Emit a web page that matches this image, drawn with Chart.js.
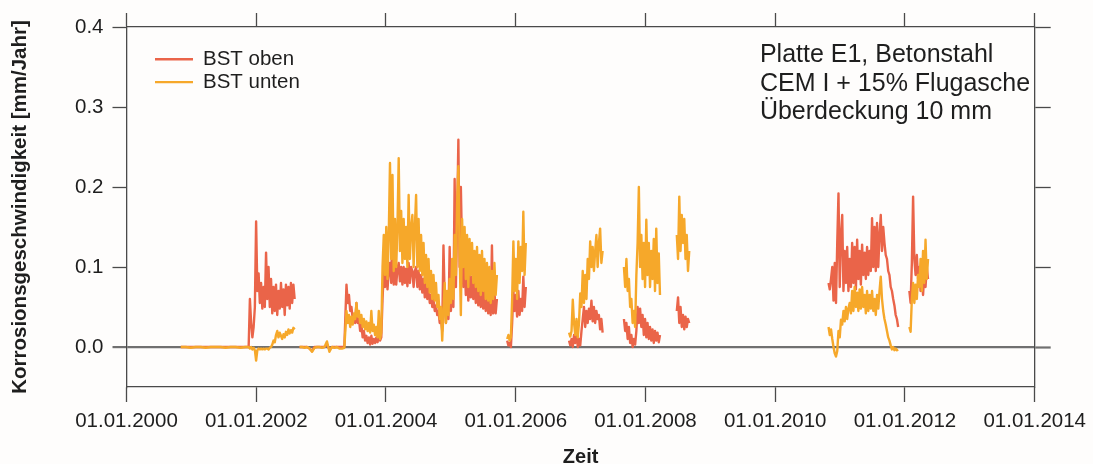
<!DOCTYPE html>
<html>
<head>
<meta charset="utf-8">
<script src="https://cdn.jsdelivr.net/npm/chart.js@4/dist/chart.umd.min.js"></script>
<style>
html,body{margin:0;padding:0;background:#fefdfc;}
#wrap{width:1093px;height:464px;position:relative;}
</style>
</head>
<body>
<div id="wrap"><canvas id="c"></canvas></div>
<script>
// ---------- labels / ticks ----------
const seriesLabels = ['BST oben', 'BST unten'];
const xTickYears = [2000, 2002, 2004, 2006, 2008, 2010, 2012, 2014];
const yTickValues = [0, 0.1, 0.2, 0.3, 0.4];
const infoLines = ['Platte E1, Betonstahl', 'CEM I + 15% Flugasche', 'Überdeckung 10 mm'];
const xTitle = 'Zeit';
const yTitle = 'Korrosionsgeschwindigkeit [mm/Jahr]';

// ---------- measurement segments (start as decimal year, sampling interval in days) ----------
const segmentStart = [2000.837, 2001.883, 2002.668, 2003.391, 2005.868, 2006.822, 2007.668, 2008.483, 2010.822, 2012.068];
const segmentStepDays = [28, 7, 14, 7, 7, 7, 7, 7, 7, 7];
const segmentBreakBefore = [false, false, true, false, true, true, true, true, true, true];

// ---------- values BST oben [mm/Jahr] ----------
const obenA = [0,0,0,0,0,0,0,0,0,0,0,0,0,0];
const obenB = [0.000,0.060,0.030,0.012,0.025,0.050,0.157,0.070,0.092,0.055,0.080,0.048,0.075,0.050,0.118,0.060,0.100,0.050,0.085,0.042,0.075,0.045,0.078,0.040,0.070,0.048,0.080,0.050,0.072,0.040,0.078,0.052,0.075,0.048,0.080,0.055,0.078,0.060];
const obenC = [0,0,0,0,-0.002,-0.005,0,0,0,0,0,0.003,-0.003,0,0,0,0,0,0];
const obenD = [0.078,0.055,0.065,0.045,0.050,0.035,0.040,0.030,0.055,0.030,
  0.035,0.020,0.028,0.012,0.020,0.008,0.014,0.005,0.012,0.003,
  0.014,0.004,0.010,0.005,0.012,0.006,0.015,0.008,0.012,0.060,
  0.095,0.075,0.100,0.072,0.095,0.105,0.080,0.160,0.078,0.100,
  0.078,0.098,0.105,0.082,0.100,0.078,0.100,0.080,0.098,0.076,
  0.105,0.080,0.100,0.095,0.075,0.095,0.100,0.075,0.095,0.072,
  0.090,0.068,0.085,0.062,0.080,0.060,0.075,0.055,0.065,0.050,
  0.060,0.045,0.052,0.040,0.045,0.030,0.035,0.020,0.127,0.060,
  0.030,0.055,0.035,0.125,0.045,0.085,0.050,0.210,0.075,0.160,
  0.259,0.100,0.200,0.120,0.075,0.105,0.065,0.095,0.058,0.090,
  0.062,0.088,0.060,0.085,0.055,0.085,0.052,0.080,0.050,0.085,
  0.048,0.075,0.045,0.072,0.042,0.068,0.040,0.127,0.042,0.070,
  0.042,0.060];
const obenE = [0.008,0.002,0.005,0.000,0.030,0.070,0.045,0.065,0.038,0.070,0.040,0.060,0.045,0.088,0.050,0.075];
const obenF = [0.008,0.002,0.010,0.000,0.015,0.005,0.020,0.000,0.010,0.002,0.020,0.035,0.050,0.025,0.045,0.030,0.048,0.035,0.058,0.032,0.050,0.030,0.045,0.035,0.040,0.022,0.035,0.018];
const obenG = [0.035,0.020,0.030,0.010,0.025,0.005,0.015,0.000,0.010,0.003,0.020,0.050,0.030,0.048,0.025,0.040,0.015,0.035,0.012,0.030,0.010,0.025,0.008,0.022,0.005,0.020,0.008,0.018,0.006,0.015];
const obenH = [0.045,0.062,0.030,0.050,0.025,0.040,0.022,0.038,0.025,0.035,0.030];
const obenI = [0.080,0.072,0.085,0.100,0.058,0.105,0.055,0.130,0.192,0.075,
  0.140,0.165,0.070,0.120,0.080,0.125,0.070,0.110,0.075,0.130,
  0.080,0.125,0.072,0.134,0.085,0.120,0.078,0.128,0.090,0.118,
  0.085,0.125,0.090,0.120,0.095,0.161,0.100,0.150,0.095,0.155,
  0.100,0.140,0.165,0.120,0.150,0.130,0.115,0.110,0.095,0.090,
  0.075,0.070,0.060,0.052,0.040,0.035,0.025];
const obenJ = [0.070,0.055,0.105,0.188,0.110,0.090,0.115,0.085,0.100,0.070,0.095,0.065,0.090,0.075,0.100,0.085];

// ---------- values BST unten [mm/Jahr] ----------
const untenA = [0,0,-0.001,0,0,-0.001,0,0,0,-0.001,0,0,-0.001,0];
const untenB = [0.000,-0.002,0.000,-0.003,-0.001,-0.004,-0.017,-0.004,-0.002,-0.003,-0.002,-0.003,-0.002,-0.003,-0.002,-0.002,-0.003,-0.001,0.000,0.003,0.008,0.006,0.015,0.020,0.012,0.018,0.014,0.010,0.016,0.012,0.019,0.015,0.022,0.017,0.021,0.018,0.024,0.022];
const untenC = [0,0,-0.001,0,-0.002,-0.006,-0.001,0,0,-0.001,0,0.007,-0.006,0,-0.001,0,-0.002,-0.002,-0.001];
const untenD = [0.045,0.030,0.040,0.025,0.038,0.028,0.042,0.035,0.055,0.038,
  0.045,0.030,0.040,0.025,0.035,0.022,0.032,0.020,0.030,0.018,
  0.045,0.020,0.028,0.015,0.025,0.012,0.045,0.010,0.018,0.100,
  0.140,0.090,0.150,0.085,0.140,0.230,0.110,0.215,0.095,0.160,
  0.100,0.150,0.236,0.120,0.170,0.105,0.160,0.110,0.150,0.100,
  0.190,0.110,0.150,0.165,0.100,0.150,0.190,0.100,0.160,0.095,
  0.140,0.090,0.130,0.080,0.115,0.075,0.110,0.068,0.095,0.060,
  0.090,0.058,0.080,0.050,0.065,0.035,0.050,0.008,0.045,0.080,
  0.030,0.070,0.040,0.085,0.055,0.110,0.060,0.140,0.090,0.180,
  0.226,0.120,0.040,0.160,0.100,0.150,0.085,0.140,0.075,0.135,
  0.090,0.130,0.080,0.120,0.075,0.125,0.070,0.115,0.065,0.120,
  0.070,0.110,0.060,0.105,0.058,0.100,0.055,0.095,0.060,0.105,
  0.065,0.090];
const untenE = [0.010,0.015,0.008,0.012,0.060,0.132,0.070,0.110,0.060,0.132,0.080,0.125,0.095,0.169,0.090,0.130];
const untenF = [0.018,0.013,0.020,0.059,0.030,0.015,0.035,0.012,0.030,0.067,0.050,0.095,0.055,0.090,0.060,0.110,0.085,0.132,0.100,0.125,0.095,0.120,0.140,0.100,0.130,0.148,0.105,0.120];
const untenG = [0.100,0.075,0.110,0.070,0.085,0.050,0.060,0.030,0.045,0.025,0.090,0.130,0.200,0.100,0.140,0.085,0.130,0.075,0.159,0.090,0.130,0.075,0.120,0.085,0.135,0.070,0.148,0.080,0.117,0.065];
const untenH = [0.140,0.110,0.188,0.120,0.165,0.130,0.160,0.110,0.140,0.095,0.120];
const untenI = [0.025,0.015,0.022,0.010,0.000,-0.008,-0.012,-0.005,0.020,0.012,
  0.034,0.028,0.045,0.032,0.050,0.035,0.048,0.055,0.042,0.070,
  0.045,0.075,0.050,0.068,0.045,0.072,0.048,0.075,0.050,0.065,
  0.042,0.070,0.045,0.065,0.048,0.070,0.045,0.060,0.040,0.065,
  0.048,0.070,0.088,0.060,0.045,0.035,0.028,0.020,0.012,0.008,
  0.002,-0.003,0.000,-0.004,-0.002,-0.004,-0.003];
const untenJ = [0.025,0.019,0.060,0.080,0.055,0.078,0.060,0.090,0.075,0.110,0.070,0.120,0.080,0.134,0.085,0.110];

const obenSegments = [obenA, obenB, obenC, obenD, obenE, obenF, obenG, obenH, obenI, obenJ];
const untenSegments = [untenA, untenB, untenC, untenD, untenE, untenF, untenG, untenH, untenI, untenJ];

function buildSeries(segs) {
  const pts = [];
  segs.forEach((vals, s) => {
    const t0 = segmentStart[s];
    const dt = segmentStepDays[s] / 365.25;
    if (segmentBreakBefore[s]) pts.push({x: t0 - dt / 2, y: null});
    vals.forEach((v, i) => pts.push({x: t0 + i * dt, y: v}));
  });
  return pts;
}

const FONT = "'Liberation Sans', Arial, sans-serif";
const TEXT = '#1e1e1e';
const AXIS = '#4a4a4a';
const ZERO = '#707070';
const RED = '#EA6449';
const ORANGE = '#F6A82A';
const LINE_W = 2.4;
const isZero = c => c.tick && Math.abs(c.tick.value) < 1e-9;

const bgPlugin = {
  id: 'bg',
  beforeDraw(chart) {
    const ctx = chart.ctx;
    ctx.save();
    ctx.fillStyle = '#fefdfc';
    ctx.fillRect(0, 0, chart.width, chart.height);
    ctx.restore();
  }
};

const overlayPlugin = {
  id: 'overlay',
  afterDraw(chart) {
    const {ctx, chartArea: a} = chart;
    ctx.save();
    ctx.font = '20.5px ' + FONT;
    ctx.textBaseline = 'middle';
    ctx.textAlign = 'left';
    chart.data.datasets.forEach((ds, k) => {
      const y = a.top + 32.3 + k * 22.8;
      ctx.strokeStyle = ds.borderColor;
      ctx.lineWidth = LINE_W;
      ctx.beginPath();
      ctx.moveTo(a.left + 28.5, y);
      ctx.lineTo(a.left + 66.5, y);
      ctx.stroke();
      ctx.fillStyle = TEXT;
      ctx.fillText(ds.label, a.left + 76.5, y + 0.5);
    });
    ctx.font = '25px ' + FONT;
    ctx.textBaseline = 'alphabetic';
    infoLines.forEach((line, k) => {
      ctx.fillText(line, a.left + 633.4, a.top + 34.7 + k * 28.8);
    });
    ctx.restore();
  }
};

const xTicksFn = s => { s.ticks = xTickYears.map(v => ({value: v})); };
const yTicksFn = s => { s.ticks = yTickValues.map(v => ({value: v})); };

new Chart(document.getElementById('c'), {
  type: 'line',
  data: {
    datasets: [
      {label: seriesLabels[0], data: buildSeries(obenSegments), borderColor: RED, backgroundColor: RED,
       borderWidth: LINE_W, pointRadius: 0, spanGaps: false, tension: 0, order: 2, borderJoinStyle: 'round'},
      {label: seriesLabels[1], data: buildSeries(untenSegments), borderColor: ORANGE, backgroundColor: ORANGE,
       borderWidth: LINE_W, pointRadius: 0, spanGaps: false, tension: 0, order: 1, borderJoinStyle: 'round'}
    ]
  },
  options: {
    animation: false,
    responsive: true,
    maintainAspectRatio: false,
    layout: {padding: 0},
    plugins: {legend: {display: false}, tooltip: {enabled: false}},
    scales: {
      x: {
        type: 'linear', position: 'bottom', min: 2000, max: 2014, bounds: 'data',
        afterBuildTicks: xTicksFn,
        ticks: {callback: v => '01.01.' + v, font: {family: FONT, size: 20.5}, color: TEXT, padding: 7, maxRotation: 0, autoSkip: false},
        grid: {drawOnChartArea: false, tickLength: 15, tickColor: AXIS, tickWidth: 1.3},
        border: {color: AXIS, width: 1.3},
        title: {display: true, text: xTitle, font: {family: FONT, size: 20, weight: 'bold'}, color: TEXT, padding: {top: 0, bottom: -5}},
        afterFit: s => { s.height = 77; }
      },
      x2: {
        type: 'linear', position: 'top', min: 2000, max: 2014, bounds: 'data',
        afterBuildTicks: xTicksFn,
        ticks: {display: false},
        grid: {drawOnChartArea: false, tickLength: 14, tickColor: AXIS, tickWidth: 1.3},
        border: {color: AXIS, width: 1.3},
        afterFit: s => { s.height = 27; }
      },
      y: {
        type: 'linear', position: 'left', min: -0.05, max: 0.4, bounds: 'data',
        afterBuildTicks: yTicksFn,
        ticks: {callback: v => Number(v).toFixed(1), font: {family: FONT, size: 20.5}, color: TEXT, padding: 9},
        grid: {
          drawOnChartArea: true,
          color: c => isZero(c) ? ZERO : 'rgba(0,0,0,0)',
          lineWidth: c => isZero(c) ? 2.2 : 1,
          tickLength: 14,
          tickColor: c => isZero(c) ? ZERO : AXIS,
          tickWidth: c => isZero(c) ? 2.2 : 1.3
        },
        border: {color: AXIS, width: 1.3},
        title: {display: true, text: yTitle, font: {family: FONT, size: 20.5, weight: 'bold'}, color: TEXT, padding: {top: 8.5, bottom: 0}},
        afterFit: s => { s.width = 126.5; }
      },
      y2: {
        type: 'linear', position: 'right', min: -0.05, max: 0.4, bounds: 'data',
        afterBuildTicks: yTicksFn,
        ticks: {display: false},
        grid: {
          drawOnChartArea: false,
          tickLength: 16,
          tickColor: c => isZero(c) ? ZERO : AXIS,
          tickWidth: c => isZero(c) ? 2.2 : 1.3
        },
        border: {color: AXIS, width: 1.3},
        afterFit: s => { s.width = 1093 - 1036; }
      }
    }
  },
  plugins: [bgPlugin, overlayPlugin]
});
</script>
</body>
</html>
